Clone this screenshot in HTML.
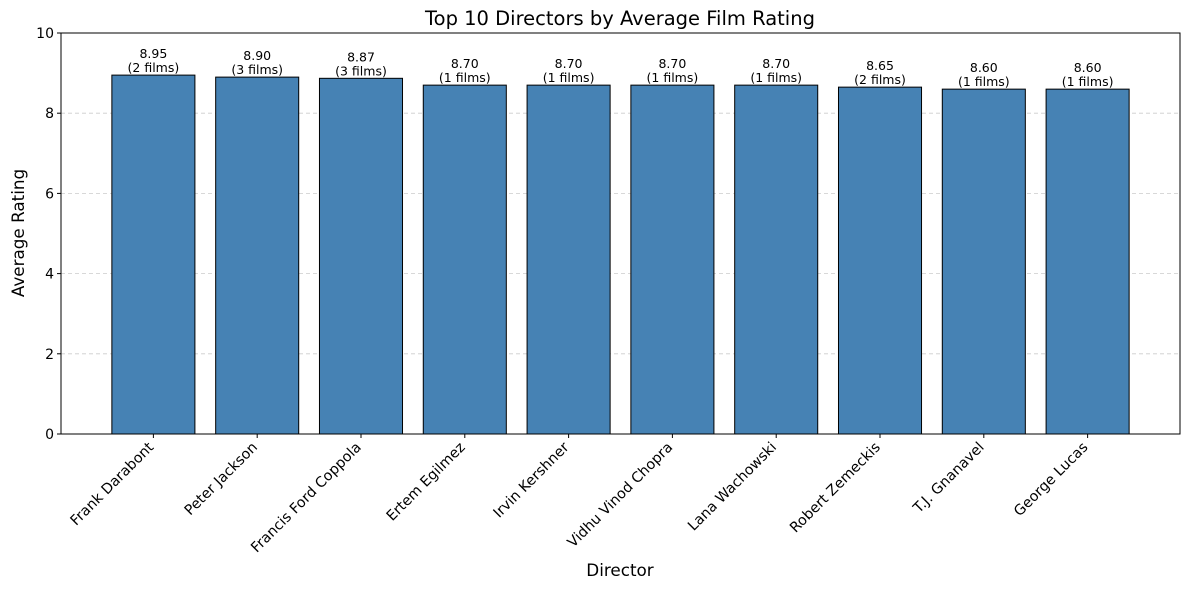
<!DOCTYPE html>
<html><head><meta charset="utf-8"><style>
body{margin:0;background:#fff}
svg{display:block;font-family:"DejaVu Sans","Liberation Sans",sans-serif}
</style></head><body>
<svg id="chart" width="1189" height="590" xmlns="http://www.w3.org/2000/svg">
<rect width="1189" height="590" fill="#fff"/>
<text x="620" y="25" font-size="19.5" text-anchor="middle">Top 10 Directors by Average Film Rating</text>
<text x="620" y="576" font-size="16.8" text-anchor="middle">Director</text>
<text transform="translate(24,233) rotate(-90)" font-size="16.8" text-anchor="middle">Average Rating</text>
<g id="grid"></g><g id="bars"></g><g id="labels"></g><g id="axes"></g>
</svg>
<script>
const directors=["Frank Darabont","Peter Jackson","Francis Ford Coppola","Ertem Egilmez","Irvin Kershner","Vidhu Vinod Chopra","Lana Wachowski","Robert Zemeckis","T.J. Gnanavel","George Lucas"];
const ratings=[8.95,8.90,8.87,8.70,8.70,8.70,8.70,8.65,8.60,8.60];
const filmCounts=[2,3,3,1,1,1,1,2,1,1];
const yTicks=[0,2,4,6,8,10];
const L=61,R=1180,T=33,B=434;
const NS="http://www.w3.org/2000/svg";
const x0=-0.89,x1=directors.length-1+0.89;
function sx(i){return L+(i-x0)/(x1-x0)*(R-L);}
function sy(v){return B-(v/10)*(B-T);}
function mk(tag,attrs,parent,txt){const e=document.createElementNS(NS,tag);for(const k in attrs)e.setAttribute(k,attrs[k]);if(txt!==undefined)e.textContent=txt;document.getElementById(parent).appendChild(e);return e;}
const bw=0.8*(R-L)/(x1-x0);
yTicks.forEach(t=>{
  if(t>0&&t<10){const g=mk('line',{x1:L,x2:R,y1:sy(t),y2:sy(t),stroke:'#ccc','stroke-dasharray':'4,3','stroke-width':0.8},'grid');
  
  }
  const tk=mk('line',{x1:L-4,x2:L,y1:sy(t),y2:sy(t),stroke:'#000'},'axes');
  
  
  const tl=mk('text',{x:L-7,y:sy(t)+5,'font-size':14,'text-anchor':'end'},'axes',String(t));
  
  
});
directors.forEach((d,i)=>{
  const cx=sx(i),top=sy(ratings[i]);
  const b=mk('rect',{x:cx-bw/2,y:top,width:bw,height:B-top,fill:'#4682b4',stroke:'#000','stroke-width':1},'bars');
  
  
  const a1=mk('text',{x:cx,y:top-17,'font-size':12.5,'text-anchor':'middle'},'labels',ratings[i].toFixed(2));
  
  
  const a2=mk('text',{x:cx,y:top-3,'font-size':12.5,'text-anchor':'middle'},'labels','('+filmCounts[i]+' films)');
  
  
  const tk=mk('line',{x1:cx,x2:cx,y1:B,y2:B+4,stroke:'#000'},'axes');
  
  
  const tl=mk('text',{transform:`translate(${cx+1},${B+14}) rotate(-45)`,'font-size':14.3,'text-anchor':'end'},'axes',d);
  
  
});
const fr=mk('rect',{x:L,y:T,width:R-L,height:B-T,fill:'none',stroke:'#000','stroke-width':1},'axes');


</script>
</body></html>
